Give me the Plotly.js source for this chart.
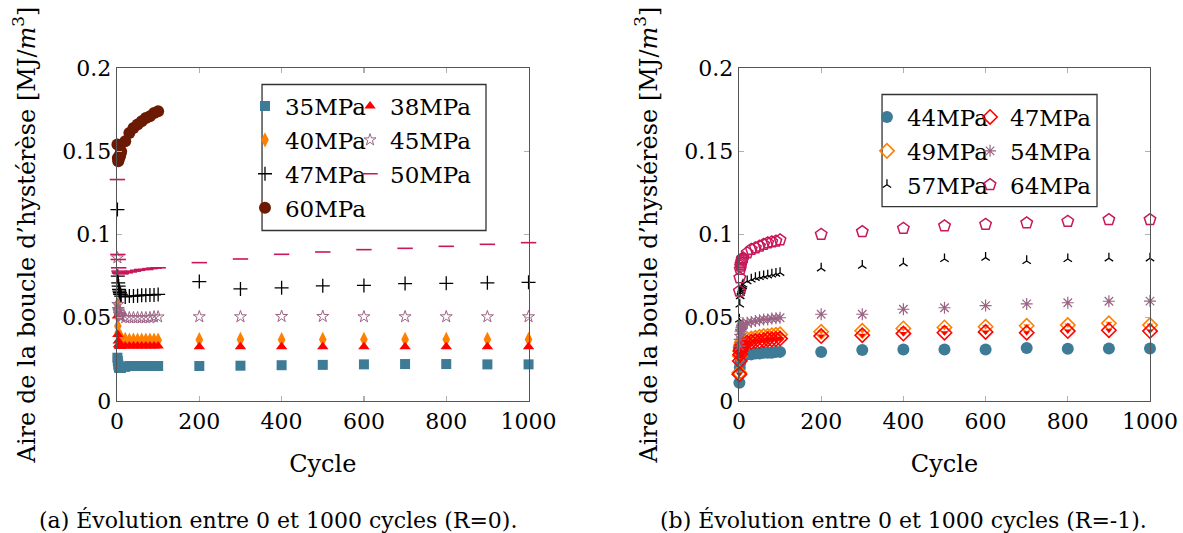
<!DOCTYPE html>
<html><head><meta charset="utf-8">
<script src="https://cdn.plot.ly/plotly-3.0.1.min.js"></script>
<style>html,body{margin:0;padding:0;background:#fff}#chart{width:1183px;height:533px}</style>
</head><body><div id="chart"></div>
<script>
// Cycle values (x)
const cycles = [1,2,3,4,5,6,7,8,9,10,20,30,40,50,60,70,80,90,100,200,300,400,500,600,700,800,900,1000];
const cycles60 = [1,2,3,4,5,6,7,8,9,10,20,30,40,50,60,70,80,90,100];
const xTicks = [0,200,400,600,800,1000];
const yTicks = [0,0.05,0.1,0.15,0.2];
const yTickText = ['0','0.05','0.1','0.15','0.2'];

// (a) R=0
const a35 = [0.026,0.024,0.022,0.021,0.020,0.020,0.020,0.020,0.020,0.020,0.0205,0.021,0.021,0.021,0.021,0.021,0.021,0.021,0.021,0.021,0.0212,0.0215,0.0217,0.022,0.0222,0.0222,0.022,0.022];
const a38 = [0.051,0.040,0.036,0.034,0.0335,0.033,0.033,0.033,0.033,0.033,0.033,0.033,0.033,0.033,0.033,0.033,0.033,0.033,0.033,0.0326,0.0326,0.0326,0.0326,0.0326,0.0326,0.0326,0.0326,0.0326];
const a40 = [0.058,0.045,0.041,0.040,0.039,0.039,0.0385,0.038,0.038,0.038,0.037,0.0365,0.0365,0.0365,0.0365,0.0365,0.0365,0.0365,0.0365,0.0368,0.037,0.0368,0.037,0.037,0.037,0.037,0.037,0.037];
const a45 = [0.086,0.058,0.055,0.054,0.053,0.052,0.0515,0.051,0.051,0.0505,0.050,0.050,0.050,0.050,0.050,0.050,0.050,0.0505,0.0505,0.0506,0.0506,0.0508,0.0508,0.0506,0.0506,0.0506,0.0506,0.0506];
const a47 = [0.115,0.075,0.071,0.069,0.067,0.066,0.065,0.064,0.064,0.063,0.0625,0.063,0.063,0.0632,0.0635,0.0635,0.0637,0.0637,0.064,0.0717,0.0673,0.068,0.0692,0.0694,0.0705,0.0707,0.071,0.0713];
const a50 = [0.133,0.088,0.085,0.080,0.078,0.077,0.077,0.077,0.0765,0.0765,0.077,0.0775,0.078,0.0785,0.079,0.079,0.0795,0.0798,0.080,0.0831,0.0853,0.0881,0.0895,0.0909,0.0917,0.0929,0.0941,0.0951];
const a60 = [0.154,0.146,0.144,0.145,0.146,0.147,0.147,0.148,0.149,0.150,0.156,0.161,0.164,0.166,0.168,0.170,0.171,0.173,0.174];

// (b) R=-1
const b44 = [0.011,0.020,0.023,0.025,0.026,0.026,0.027,0.027,0.0275,0.0275,0.028,0.028,0.0285,0.0285,0.029,0.029,0.029,0.0295,0.0295,0.0294,0.0306,0.031,0.031,0.031,0.0318,0.0314,0.0316,0.0316];
const b47 = [0.016,0.024,0.028,0.030,0.031,0.032,0.033,0.0335,0.034,0.034,0.035,0.0355,0.036,0.036,0.0365,0.037,0.037,0.0372,0.0375,0.039,0.0395,0.0405,0.041,0.0415,0.041,0.042,0.0425,0.042];
const b49 = [0.017,0.027,0.030,0.032,0.033,0.034,0.035,0.0355,0.036,0.0365,0.037,0.0375,0.038,0.0385,0.039,0.039,0.0395,0.0398,0.040,0.0416,0.0422,0.0436,0.0442,0.0446,0.0452,0.0456,0.0467,0.0456];
const b54 = [0.033,0.037,0.040,0.042,0.043,0.044,0.045,0.0455,0.046,0.046,0.047,0.0475,0.048,0.0485,0.049,0.049,0.0495,0.0497,0.050,0.0521,0.0521,0.0551,0.056,0.0573,0.0583,0.059,0.0599,0.060];
const b57 = [0.049,0.058,0.063,0.065,0.066,0.067,0.068,0.069,0.069,0.070,0.072,0.073,0.074,0.0745,0.075,0.0755,0.076,0.0765,0.077,0.0797,0.0813,0.0827,0.0853,0.0861,0.0841,0.0853,0.0857,0.0857];
const b64 = [0.066,0.074,0.079,0.081,0.082,0.083,0.084,0.085,0.0855,0.086,0.089,0.091,0.092,0.093,0.094,0.095,0.0955,0.096,0.0967,0.1001,0.1017,0.1037,0.1051,0.1061,0.1069,0.1079,0.1089,0.1089];

const TEAL='#3e7b96', RED='#ff0000', ORANGE='#ff8000', MAUVE='#9b6384', BLACK='#000000', CRIMSON='#c8175a', BROWN='#6b1a04';

function tr(name, x, y, ax, leg, m, show){
  return {type:'scatter', mode:'markers', name:name, x:x, y:y, xaxis:ax[0], yaxis:ax[1],
    legend:leg, legendgroup:name+ax[0], showlegend:show!==false, cliponaxis:false, marker:m};
}
const A=['x','y'], B=['x2','y2'];
const data = [
  tr('35MPa', cycles, a35, A, 'legend', {symbol:'square', size:10, color:TEAL}),
  tr('40MPa', cycles, a40, A, 'legend', {symbol:'diamond-tall', size:11, color:ORANGE}),
  tr('47MPa', cycles, a47, A, 'legend', {symbol:'cross-thin-open', size:10, color:BLACK, line:{width:1.3,color:BLACK}}),
  tr('60MPa', cycles60, a60, A, 'legend', {symbol:'circle', size:12, color:BROWN}),
  tr('38MPa', cycles, a38, A, 'legend2', {symbol:'triangle-up', size:10, color:RED}),
  tr('45MPa', cycles, a45, A, 'legend2', {symbol:'star-open', size:9, color:MAUVE, line:{width:1,color:MAUVE}}),
  tr('50MPa', cycles, a50, A, 'legend2', {symbol:'line-ew-open', size:11, color:CRIMSON, line:{width:1.6,color:CRIMSON}}),

  tr('44MPa', cycles, b44, B, 'legend3', {symbol:'circle', size:12, color:TEAL}),
  tr('49MPa', cycles, b49, B, 'legend3', {symbol:'diamond-open', size:11, color:ORANGE, line:{width:1.6,color:ORANGE}}),
  tr('49MPa', cycles, b49, B, 'legend3', {symbol:'triangle-down', size:6, color:ORANGE}, false),
  tr('57MPa', cycles, b57, B, 'legend3', {symbol:'y-up-open', size:7, color:BLACK, line:{width:1.3,color:BLACK}}),
  tr('47MPa', cycles, b47, B, 'legend4', {symbol:'diamond-open', size:11, color:RED, line:{width:1.6,color:RED}}),
  tr('47MPa', cycles, b47, B, 'legend4', {symbol:'triangle-down', size:6, color:RED}, false),
  tr('54MPa', cycles, b54, B, 'legend4', {symbol:'asterisk-open', size:10, color:MAUVE, line:{width:1.2,color:MAUVE}}),
  tr('64MPa', cycles, b64, B, 'legend4', {symbol:'pentagon-open', size:12, color:CRIMSON, line:{width:1.5,color:CRIMSON}})
];

const FONT = {family:'DejaVu Serif, serif', size:22, color:'#000'};
const XT = {family:'DejaVu Serif, serif', size:24, color:'#000'};
const YT = {family:'DejaVu Serif, serif', size:24, color:'#000'};
const LF = {family:'DejaVu Serif, serif', size:23, color:'#000'};
function xa(dom){ return {domain:dom, range:[0,1000], tickvals:xTicks, ticks:'inside', ticklen:5, tickcolor:'#b0b0b0', tickwidth:1.2,
  showline:true, linecolor:'#555', linewidth:1.3, mirror:'ticks', showgrid:false, zeroline:false,
  tickfont:FONT, title:{text:'Cycle', font:XT, standoff:22}}; }
function ya(anchor){ return {domain:[0,1], anchor:anchor, range:[0,0.2], tickvals:yTicks, ticktext:yTickText, ticks:'inside', ticklen:5, tickcolor:'#b0b0b0', tickwidth:1.2,
  showline:true, linecolor:'#555', linewidth:1.3, mirror:'ticks', showgrid:false, zeroline:false,
  tickfont:FONT, title:{text:'Aire de la boucle d’hystérèse [MJ/<i>m</i><sup>3</sup>]', font:YT, standoff:20}}; }

function lg(x,y){ return {x:x, y:y, xanchor:'left', yanchor:'top', bgcolor:'rgba(0,0,0,0)', borderwidth:0, font:LF, tracegroupgap:1, itemwidth:30}; }

const layout = {
  width:1183, height:533, paper_bgcolor:'#fff', plot_bgcolor:'#fff', font:FONT,
  margin:{l:117, r:33, t:68, b:132, pad:0},
  showlegend:true,
  xaxis: xa([0,0.3984]), yaxis: ya('x'),
  xaxis2: Object.assign(xa([0.6021,1]), {anchor:'y2'}), yaxis2: ya('x2'),
  legend: lg(0.1239, 0.9504), legend2: lg(0.2256, 0.9504),
  legend3: lg(0.726, 0.9174), legend4: lg(0.8258, 0.9174),
  shapes:[
    {type:'rect', xref:'paper', yref:'paper', x0:0.1404, x1:0.3572, y0:0.512, y1:0.9505, line:{color:'#333', width:1.3}},
    {type:'rect', xref:'paper', yref:'paper', x0:0.7406, x1:0.9487, y0:0.584, y1:0.9204, line:{color:'#333', width:1.3}}
  ],
  annotations:[
    {xref:'paper', yref:'paper', x:0.1559, y:-0.356, xanchor:'center', yanchor:'middle', showarrow:false, font:FONT, text:'(a) Évolution entre 0 et 1000 cycles (R=0).'},
    {xref:'paper', yref:'paper', x:0.761, y:-0.356, xanchor:'center', yanchor:'middle', showarrow:false, font:FONT, text:'(b) Évolution entre 0 et 1000 cycles (R=-1).'}
  ]
};
Plotly.newPlot('chart', data, layout, {displayModeBar:false, staticPlot:true});
</script></body></html>
